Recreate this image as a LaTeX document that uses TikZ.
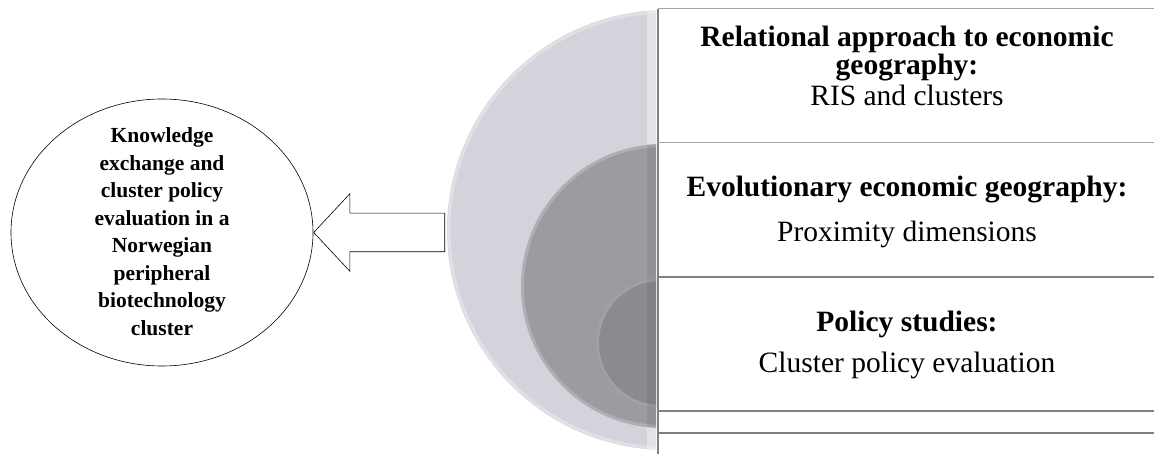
\documentclass[tikz,border=0pt]{standalone}
\usepackage{fontspec}
\setmainfont{Liberation Serif}
\usetikzlibrary{shapes.geometric,shapes.arrows}

\definecolor{diskouter}{RGB}{211,212,219}
\definecolor{diskmiddle}{RGB}{155,156,161}
\definecolor{diskinner}{RGB}{138,138,143}
\definecolor{rulegray}{RGB}{128,128,134}
\definecolor{rulelight}{RGB}{165,165,172}

\tikzset{
  headline/.style={anchor=base, font=\fontsize{29.5}{33}\selectfont\bfseries, inner sep=0pt},
  subline/.style={anchor=base, font=\fontsize{29.5}{33}\selectfont, inner sep=0pt},
  focustext/.style={align=center, inner sep=0pt, font=\fontsize{21.5}{27.5}\selectfont\bfseries},
  rim/.style={line width=3pt, white, opacity=0.3},
  rowrule/.style={draw=rulegray, line width=1.2pt},
  toprule/.style={draw=rulelight, line width=1pt}
}

\begin{document}
\begin{tikzpicture}[x=1pt, y=-1pt]
\useasboundingbox (0,0) rectangle (1154,454);
\fill[white] (0,0) rectangle (1154,454);

% nested half disks, cut by the vertical rule
\begin{scope}
  \clip (0,0) rectangle (656,454);
  \fill[diskouter] (667,230) circle[radius=220pt];
  \draw[rim] (667,230) circle[radius=218pt];
  \fill[white, opacity=0.35] (647,0) rectangle (656,454);
  \fill[diskmiddle] (663,286) circle[radius=142pt];
  \draw[rim, opacity=0.2] (663,286) circle[radius=140.5pt];
  \fill[diskinner] (661,343) circle[radius=65pt];
  \draw[rim, opacity=0.2] (661,343) circle[radius=63.5pt];
  \begin{scope}
    \clip (663,286) circle[radius=142pt];
    \fill[black, opacity=0.06] (647,0) rectangle (656,454);
  \end{scope}
\end{scope}

% table of rows to the right of the disks
\coordinate (vtop) at (658,9);
\coordinate (vbot) at (658,454);
\draw[rowrule] (vtop) -- (vbot);
\draw[toprule] (658,9) -- (1154,9);
\draw[toprule] (658,143) -- (1154,143);
\draw[rowrule] (658,277) -- (1154,277);
\draw[rowrule] (658,411) -- (1154,411);
\draw[rowrule] (658,433) -- (1154,433);

% row texts
\node[headline] (h1a) at (907,47) {Relational approach to economic};
\node[headline] (h1b) at (907,74.5) {geography:};
\node[subline]  (s1)  at (907,106) {RIS and clusters};
\node[headline] (h2)  at (907,197) {Evolutionary economic geography:};
\node[subline]  (s2)  at (907,242) {Proximity dimensions};
\node[headline] (h3)  at (907,331) {Policy studies:};
\node[subline]  (s3)  at (907,372) {Cluster policy evaluation};

% focus ellipse
\node[draw, ellipse, line width=0.6pt, minimum width=302pt, minimum height=267pt, inner sep=0pt] (focus) at (162,232.5) {};
\node[focustext] (focuslabel) at (162,231.8) {Knowledge\\exchange and\\cluster policy\\evaluation in a\\Norwegian\\peripheral\\biotechnology\\cluster};

% block arrow pointing at the ellipse
\node[single arrow, draw, line width=0.6pt, fill=white,
      inner xsep=0pt, inner ysep=19pt,
      minimum height=131pt,
      single arrow head extend=19.5pt, single arrow tip angle=94,
      shape border rotate=180, anchor=tip] (arrow) at (focus.east) {};
\end{tikzpicture}
\end{document}
